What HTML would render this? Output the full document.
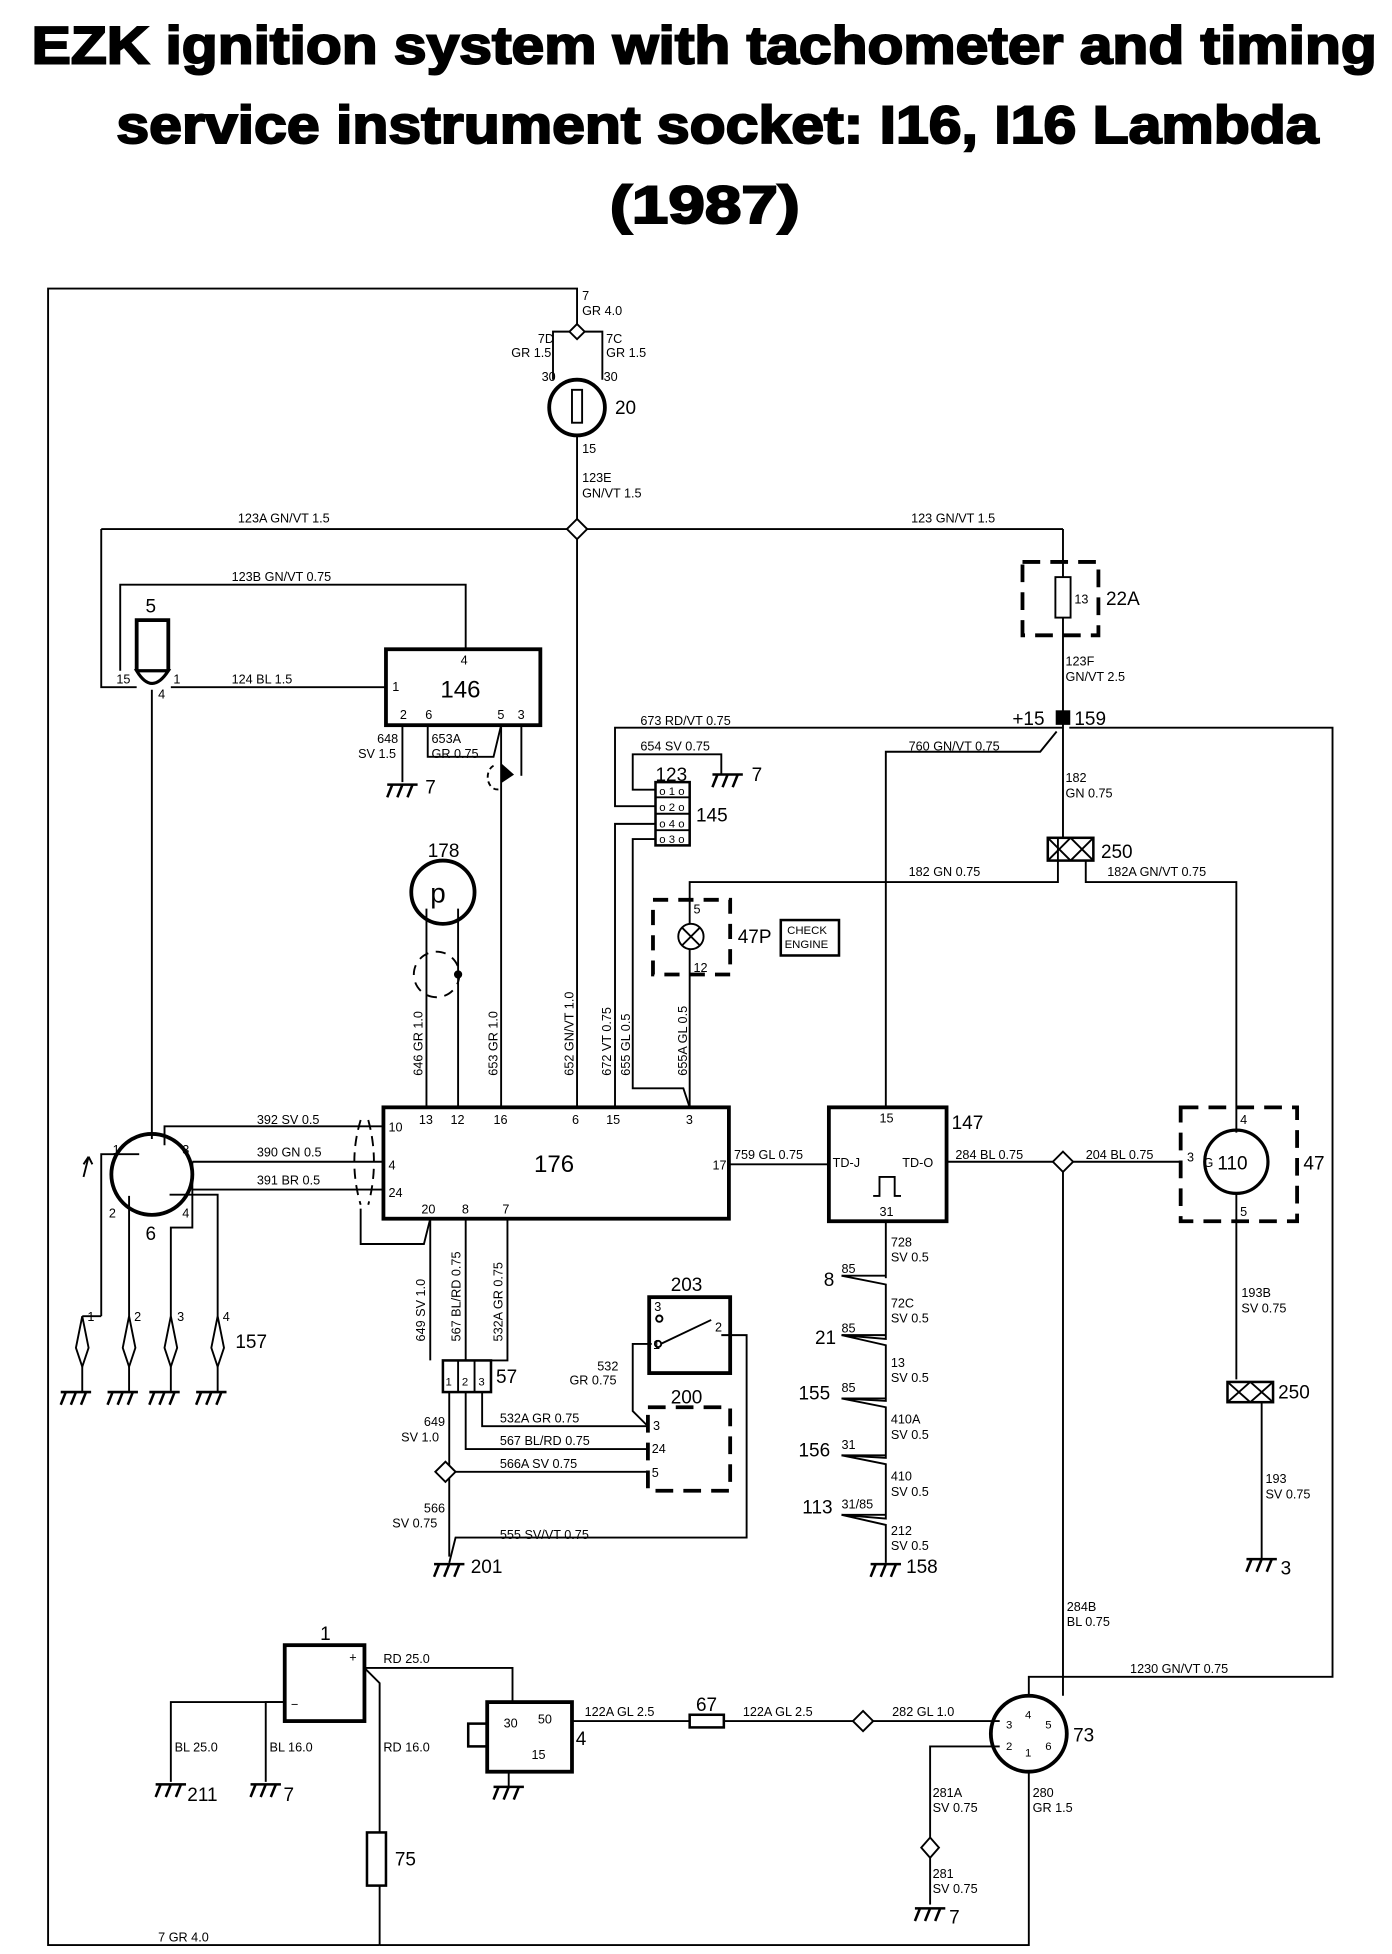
<!DOCTYPE html>
<html><head><meta charset="utf-8"><style>
html,body{margin:0;padding:0;background:#fff}
svg{display:block}
text{font-family:"Liberation Sans",sans-serif;fill:#000}
.s{font-size:10px}
.m{font-size:15px}
.t{font-size:42px;font-weight:bold;stroke:#000;stroke-width:1.6}
</style></head><body>
<svg width="1392" height="1954" viewBox="0 0 1100 1544" xmlns="http://www.w3.org/2000/svg">
<defs>
<g id="gnd"><line x1="-12" y1="0" x2="12" y2="0"/><line x1="-8" y1="0" x2="-12" y2="10"/><line x1="0" y1="0" x2="-4" y2="10"/><line x1="8" y1="0" x2="4" y2="10"/></g>
</defs>
<g stroke="#000" fill="none" stroke-width="1.5">
<polyline points="456,262 456,228 38,228 38,1537 300,1537"/>
<polygon points="456,256 462,262 456,268 450,262" fill="#fff"/>
<polyline points="450,262 437,262 437,300"/>
<polyline points="462,262 476,262 476,300"/>
<circle cx="456" cy="322" r="22" stroke-width="3"/>
<rect x="452" y="308" width="8" height="26"/>
<line x1="456" y1="344" x2="456" y2="412"/>
<polygon points="456,410 464,418 456,426 448,418" fill="#fff"/>
<line x1="80" y1="418" x2="448" y2="418"/>
<line x1="464" y1="418" x2="840" y2="418"/>
<line x1="456" y1="426" x2="456" y2="875"/>
<line x1="840" y1="418" x2="840" y2="567"/>
<rect x="808" y="444" width="60" height="58" stroke-width="3" stroke-dasharray="14,8"/>
<rect x="834" y="456" width="12" height="32" fill="#fff"/>
<rect x="835" y="562" width="10" height="10" fill="#000"/>
<polyline points="80,418 80,543 108,543"/>
<polyline points="95,530 95,462 368,462 368,513"/>
<path d="M108,530 V490 H133 V530" stroke-width="3"/>
<path d="M108,530 Q120,550 133,530 Z" stroke-width="2.5"/>
<line x1="120" y1="545" x2="120" y2="900"/>
<line x1="135" y1="543" x2="305" y2="543"/>
<rect x="305" y="513" width="122" height="60" stroke-width="3"/>
<line x1="318" y1="573" x2="318" y2="618"/>
<polyline points="338,573 338,598 390,598 396,573"/>
<line x1="412" y1="573" x2="412" y2="613"/>
<line x1="396" y1="573" x2="396" y2="875"/>
<path d="M390,605 A7,9 0 0 0 396,623" stroke-dasharray="4,3"/>
<path d="M396,604 L405,612 L396,618" fill="#000"/>
<circle cx="350" cy="705" r="25" stroke-width="3"/>
<line x1="337" y1="718" x2="337" y2="875"/>
<line x1="362" y1="718" x2="362" y2="875"/>
<circle cx="345" cy="770" r="18" stroke-dasharray="8,6"/>
<circle cx="362" cy="770" r="2.5" fill="#000"/>
<polyline points="840,575 486,575 486,637 518,637"/>
<polyline points="518,624 500,624 500,596 570,596 570,612"/>
<polyline points="518,651 486,651 486,875"/>
<polyline points="518,663 500,663 500,860 540,860 545,875"/>
<rect x="518" y="618" width="27" height="50" stroke-width="2"/>
<line x1="518" y1="630" x2="545" y2="630"/><line x1="518" y1="643" x2="545" y2="643"/><line x1="518" y1="656" x2="545" y2="656"/>
<polyline points="836,662 836,697 545,697 545,730"/>
<rect x="516" y="711" width="61" height="59" stroke-width="3" stroke-dasharray="12,8"/>
<circle cx="546" cy="740" r="10"/>
<line x1="539" y1="733" x2="553" y2="747"/><line x1="553" y1="733" x2="539" y2="747"/>
<line x1="545" y1="750" x2="545" y2="875"/>
<rect x="617" y="727" width="46" height="28" stroke-width="2"/>
<line x1="840" y1="572" x2="840" y2="662"/>
<polyline points="835,578 822,594 700,594 700,875"/>
<rect x="828" y="662" width="36" height="18" stroke-width="2"/>
<polyline points="828,662 837,671 828,680"/><polyline points="846,662 837,671 846,680"/>
<polyline points="846,662 855,671 846,680"/><polyline points="864,662 855,671 864,680"/>
<polyline points="858,680 858,697 977,697 977,895"/>
<polyline points="845,575 1053,575 1053,1325 813,1325 813,1340"/>
<rect x="303" y="875" width="273" height="88" stroke-width="3"/>
<polyline points="303,890 130,890 130,905"/>
<line x1="152" y1="918" x2="303" y2="918"/>
<line x1="152" y1="940" x2="303" y2="940"/>
<polyline points="340,963 335,983 285,983 285,955"/>
<path d="M285,885 Q275,918 285,952" stroke-dasharray="8,5"/>
<path d="M291,885 Q300,918 291,952" stroke-dasharray="8,5"/>
<circle cx="120" cy="928" r="32" stroke-width="3"/>
<polyline points="110,912 80,912 80,1040"/>
<line x1="102" y1="945" x2="102" y2="1040"/>
<polyline points="134,944 172,944 172,1040"/>
<polyline points="152,918 152,970 135,970 135,1040"/>
<path d="M66,930 L70,914 M70,914 L66,920 M70,914 L73,920"/>
<path d="M65,1040 L60,1065 L65,1080 L70,1065 Z"/><line x1="65" y1="1080" x2="65" y2="1100"/>
<path d="M102,1040 L97,1065 L102,1080 L107,1065 Z"/><line x1="102" y1="1080" x2="102" y2="1100"/>
<path d="M135,1040 L130,1065 L135,1080 L140,1065 Z"/><line x1="135" y1="1080" x2="135" y2="1100"/>
<path d="M172,1040 L167,1065 L172,1080 L177,1065 Z"/><line x1="172" y1="1080" x2="172" y2="1100"/>
<line x1="65" y1="1040" x2="80" y2="1040"/>
<polyline points="340,963 340,1075"/>
<line x1="368" y1="963" x2="368" y2="1075"/>
<polyline points="401,963 401,1075 380,1075"/>
<rect x="350" y="1075" width="38" height="25" stroke-width="2"/>
<line x1="362" y1="1075" x2="362" y2="1100"/><line x1="375" y1="1075" x2="375" y2="1100"/>
<polyline points="355,1100 355,1230"/>
<polyline points="368,1100 368,1145 512,1145"/>
<polyline points="381,1100 381,1127 512,1127"/>
<polygon points="352,1155 360,1163 352,1171 344,1163" fill="#fff"/>
<line x1="360" y1="1163" x2="512" y2="1163"/>
<polyline points="355,1235 360,1215 590,1215 590,1055 570,1055"/>
<rect x="513" y="1025" width="64" height="60" stroke-width="3"/>
<polyline points="515,1062 500,1062 500,1115 512,1127"/>
<line x1="522" y1="1062" x2="562" y2="1043"/>
<circle cx="520" cy="1062" r="2.5"/><circle cx="521" cy="1042" r="2.5"/>
<rect x="512" y="1112" width="65" height="66" stroke-width="3" stroke-dasharray="14,8"/>
<rect x="655" y="875" width="93" height="90" stroke-width="3"/>
<line x1="576" y1="920" x2="655" y2="920"/>
<line x1="748" y1="918" x2="832" y2="918"/>
<polygon points="840,910 848,918 840,926 832,918" fill="#fff"/>
<line x1="848" y1="918" x2="933" y2="918"/>
<line x1="840" y1="926" x2="840" y2="1340"/>
<path d="M690,945 H695 V930 H707 V945 H712"/>
<polyline points="700,965 700,1010"/>
<polyline points="665,1008 700,1015 700,1058 665,1055 700,1063 700,1107 665,1105 700,1112 700,1152 665,1150 700,1157 700,1200 665,1197 700,1205 700,1235"/>
<line x1="665" y1="1008" x2="700" y2="1008"/><line x1="665" y1="1055" x2="700" y2="1055"/>
<line x1="665" y1="1105" x2="700" y2="1105"/><line x1="665" y1="1150" x2="700" y2="1150"/><line x1="665" y1="1197" x2="700" y2="1197"/>
<rect x="933" y="875" width="92" height="90" stroke-width="3" stroke-dasharray="14,8"/>
<circle cx="977" cy="918" r="25" stroke-width="2.5"/>
<line x1="977" y1="943" x2="977" y2="1090"/>
<rect x="970" y="1092" width="36" height="16" stroke-width="2"/>
<polyline points="970,1092 979,1100 970,1108"/><polyline points="988,1092 979,1100 988,1108"/>
<polyline points="988,1092 997,1100 988,1108"/><polyline points="1006,1092 997,1100 1006,1108"/>
<line x1="997" y1="1108" x2="997" y2="1232"/>
<rect x="225" y="1300" width="63" height="60" stroke-width="3"/>
<polyline points="225,1345 135,1345 135,1408"/>
<polyline points="225,1345 210,1345 210,1408"/>
<polyline points="288,1318 405,1318 405,1345"/>
<polyline points="288,1318 300,1330 300,1448"/>
<rect x="385" y="1345" width="67" height="55" stroke-width="3"/>
<rect x="370" y="1362" width="15" height="18" stroke-width="2"/>
<line x1="402" y1="1400" x2="402" y2="1412"/>
<line x1="452" y1="1360" x2="545" y2="1360"/>
<rect x="545" y="1355" width="27" height="10" stroke-width="2"/>
<line x1="572" y1="1360" x2="675" y2="1360"/>
<polygon points="682,1352 690,1360 682,1368 674,1360" fill="#fff"/>
<line x1="690" y1="1360" x2="790" y2="1360"/>
<circle cx="813" cy="1370" r="30" stroke-width="3"/>
<polyline points="790,1380 735,1380 735,1452"/>
<polygon points="735,1452 742,1460 735,1468 728,1460" fill="#fff"/>
<line x1="735" y1="1468" x2="735" y2="1505"/>
<rect x="290" y="1448" width="15" height="42" stroke-width="2"/>
<polyline points="300,1490 300,1537"/>
<polyline points="300,1537 813,1537 813,1400"/>
</g>
<g stroke="#000" stroke-width="2" fill="none">
<use href="#gnd" x="318" y="620"/><use href="#gnd" x="575" y="612"/>
<use href="#gnd" x="60" y="1100"/><use href="#gnd" x="97" y="1100"/><use href="#gnd" x="130" y="1100"/><use href="#gnd" x="167" y="1100"/>
<use href="#gnd" x="355" y="1236"/><use href="#gnd" x="700" y="1236"/><use href="#gnd" x="997" y="1232"/>
<use href="#gnd" x="135" y="1410"/><use href="#gnd" x="210" y="1410"/><use href="#gnd" x="402" y="1412"/><use href="#gnd" x="735" y="1508"/>
</g>
<text class="t" x="25" y="50" textLength="1063" lengthAdjust="spacingAndGlyphs">EZK ignition system with tachometer and timing</text>
<text class="t" x="92" y="113" textLength="950" lengthAdjust="spacingAndGlyphs">service instrument socket: I16, I16 Lambda</text>
<text class="t" x="482" y="176" textLength="150" lengthAdjust="spacingAndGlyphs">(1987)</text>
<g class="s">
<text x="460" y="237">7</text><text x="460" y="249">GR 4.0</text>
<text x="425" y="271">7D</text><text x="404" y="282">GR 1.5</text>
<text x="479" y="271">7C</text><text x="479" y="282">GR 1.5</text>
<text x="428" y="301">30</text><text x="477" y="301">30</text>
<text x="460" y="358">15</text>
<text x="460" y="381">123E</text><text x="460" y="393">GN/VT 1.5</text>
<text x="188" y="413">123A GN/VT 1.5</text><text x="720" y="413">123 GN/VT 1.5</text>
<text x="849" y="477">13</text>
<text x="842" y="526">123F</text><text x="842" y="538">GN/VT 2.5</text>
<text x="183" y="459">123B GN/VT 0.75</text>
<text x="92" y="540">15</text><text x="137" y="540">1</text><text x="125" y="552">4</text>
<text x="183" y="540">124 BL 1.5</text>
<text x="364" y="525">4</text><text x="310" y="546">1</text>
<text x="316" y="568">2</text><text x="336" y="568">6</text><text x="393" y="568">5</text><text x="409" y="568">3</text>
<text x="298" y="587">648</text><text x="283" y="599">SV 1.5</text>
<text x="341" y="587">653A</text><text x="341" y="599">GR 0.75</text>
<text x="506" y="573">673 RD/VT 0.75</text><text x="506" y="593">654 SV 0.75</text>
<text x="718" y="593">760 GN/VT 0.75</text>
<text x="842" y="618">182</text><text x="842" y="630">GN 0.75</text>
<text x="718" y="692">182 GN 0.75</text><text x="875" y="692">182A GN/VT 0.75</text>
<text x="548" y="722">5</text><text x="548" y="768">12</text>
<text x="622" y="738" font-size="9">CHECK</text><text x="620" y="749" font-size="9">ENGINE</text>
<text x="521" y="628" font-size="9">o 1 o</text><text x="521" y="641" font-size="9">o 2 o</text><text x="521" y="654" font-size="9">o 4 o</text><text x="521" y="666" font-size="9">o 3 o</text>
<text transform="translate(334,850) rotate(-90)">646 GR 1.0</text>
<text transform="translate(393,850) rotate(-90)">653 GR 1.0</text>
<text transform="translate(453,850) rotate(-90)">652 GN/VT 1.0</text>
<text transform="translate(483,850) rotate(-90)">672 VT 0.75</text>
<text transform="translate(498,850) rotate(-90)">655 GL 0.5</text>
<text transform="translate(543,850) rotate(-90)">655A GL 0.5</text>
<text x="331" y="888">13</text><text x="356" y="888">12</text><text x="390" y="888">16</text><text x="452" y="888">6</text><text x="479" y="888">15</text><text x="542" y="888">3</text>
<text x="307" y="894">10</text><text x="307" y="924">4</text><text x="307" y="946">24</text>
<text x="333" y="959">20</text><text x="365" y="959">8</text><text x="397" y="959">7</text>
<text x="563" y="924">17</text>
<text x="203" y="888">392 SV 0.5</text><text x="203" y="914">390 GN 0.5</text><text x="203" y="936">391 BR 0.5</text>
<text x="580" y="916">759 GL 0.75</text><text x="755" y="916">284 BL 0.75</text><text x="858" y="916">204 BL 0.75</text>
<text x="695" y="887">15</text><text x="658" y="922">TD-J</text><text x="713" y="922">TD-O</text><text x="695" y="961">31</text>
<text x="938" y="918">3</text><text x="951" y="922">G</text><text x="980" y="888">4</text><text x="980" y="961">5</text>
<text x="89" y="912">1</text><text x="144" y="912">3</text><text x="86" y="962">2</text><text x="144" y="962">4</text>
<text x="106" y="1044">2</text><text x="140" y="1044">3</text><text x="176" y="1044">4</text><text x="69" y="1044">1</text>
<text transform="translate(336,1060) rotate(-90)">649 SV 1.0</text>
<text transform="translate(364,1060) rotate(-90)">567 BL/RD 0.75</text>
<text transform="translate(397,1060) rotate(-90)">532A GR 0.75</text>
<text x="352" y="1095" font-size="9">1</text><text x="365" y="1095" font-size="9">2</text><text x="378" y="1095" font-size="9">3</text>
<text x="517" y="1036">3</text><text x="516" y="1066">1</text><text x="565" y="1052">2</text>
<text x="472" y="1083">532</text><text x="450" y="1094">GR 0.75</text>
<text x="395" y="1124">532A GR 0.75</text><text x="395" y="1142">567 BL/RD 0.75</text><text x="395" y="1160">566A SV 0.75</text>
<text x="516" y="1130">3</text><text x="515" y="1148">24</text><text x="515" y="1167">5</text>
<text x="335" y="1127">649</text><text x="317" y="1139">SV 1.0</text>
<text x="335" y="1195">566</text><text x="310" y="1207">SV 0.75</text>
<text x="395" y="1216">555 SV/VT 0.75</text>
<text x="704" y="985">728</text><text x="704" y="997">SV 0.5</text>
<text x="704" y="1033">72C</text><text x="704" y="1045">SV 0.5</text>
<text x="704" y="1080">13</text><text x="704" y="1092">SV 0.5</text>
<text x="704" y="1125">410A</text><text x="704" y="1137">SV 0.5</text>
<text x="704" y="1170">410</text><text x="704" y="1182">SV 0.5</text>
<text x="704" y="1213">212</text><text x="704" y="1225">SV 0.5</text>
<text x="665" y="1006">85</text><text x="665" y="1053">85</text><text x="665" y="1100">85</text><text x="665" y="1145">31</text><text x="665" y="1192">31/85</text>
<text x="981" y="1025">193B</text><text x="981" y="1037">SV 0.75</text>
<text x="1000" y="1172">193</text><text x="1000" y="1184">SV 0.75</text>
<text x="843" y="1273">284B</text><text x="843" y="1285">BL 0.75</text>
<text x="893" y="1322">1230 GN/VT 0.75</text>
<text x="303" y="1314">RD 25.0</text><text x="303" y="1384">RD 16.0</text>
<text x="138" y="1384">BL 25.0</text><text x="213" y="1384">BL 16.0</text>
<text x="398" y="1365">30</text><text x="425" y="1362">50</text><text x="420" y="1390">15</text>
<text x="462" y="1356">122A GL 2.5</text><text x="587" y="1356">122A GL 2.5</text><text x="705" y="1356">282 GL 1.0</text>
<text x="810" y="1358" font-size="9">4</text><text x="795" y="1366" font-size="9">3</text><text x="826" y="1366" font-size="9">5</text>
<text x="795" y="1383" font-size="9">2</text><text x="826" y="1383" font-size="9">6</text><text x="810" y="1388" font-size="9">1</text>
<text x="737" y="1420">281A</text><text x="737" y="1432">SV 0.75</text>
<text x="737" y="1484">281</text><text x="737" y="1496">SV 0.75</text>
<text x="816" y="1420">280</text><text x="816" y="1432">GR 1.5</text>
<text x="125" y="1534">7 GR 4.0</text>
<text x="276" y="1313">+</text><text x="230" y="1350">−</text>
</g>
<g class="m">
<text x="486" y="327">20</text><text x="874" y="478">22A</text>
<text x="115" y="484">5</text><text x="348" y="551" font-size="19">146</text>
<text x="336" y="627">7</text><text x="594" y="617">7</text>
<text x="518" y="617">123</text><text x="550" y="649">145</text>
<text x="338" y="677">178</text>
<text x="340" y="713" font-size="22">p</text>
<text x="800" y="573">+15</text><text x="849" y="573">159</text>
<text x="870" y="678">250</text><text x="583" y="745">47P</text>
<text x="422" y="926" font-size="19">176</text>
<text x="752" y="892">147</text>
<text x="962" y="924">110</text><text x="1030" y="924">47</text>
<text x="115" y="980">6</text><text x="186" y="1065">157</text>
<text x="392" y="1093">57</text><text x="530" y="1020">203</text><text x="530" y="1109">200</text>
<text x="372" y="1243">201</text>
<text x="651" y="1016">8</text><text x="644" y="1062">21</text><text x="631" y="1106">155</text><text x="631" y="1151">156</text><text x="634" y="1196">113</text>
<text x="716" y="1243">158</text>
<text x="1010" y="1105">250</text><text x="1012" y="1244">3</text>
<text x="253" y="1296">1</text><text x="148" y="1423">211</text><text x="224" y="1423">7</text>
<text x="455" y="1379">4</text><text x="550" y="1352">67</text>
<text x="848" y="1376">73</text><text x="312" y="1474">75</text>
<text x="750" y="1520">7</text>
</g>
</svg>
</body></html>
